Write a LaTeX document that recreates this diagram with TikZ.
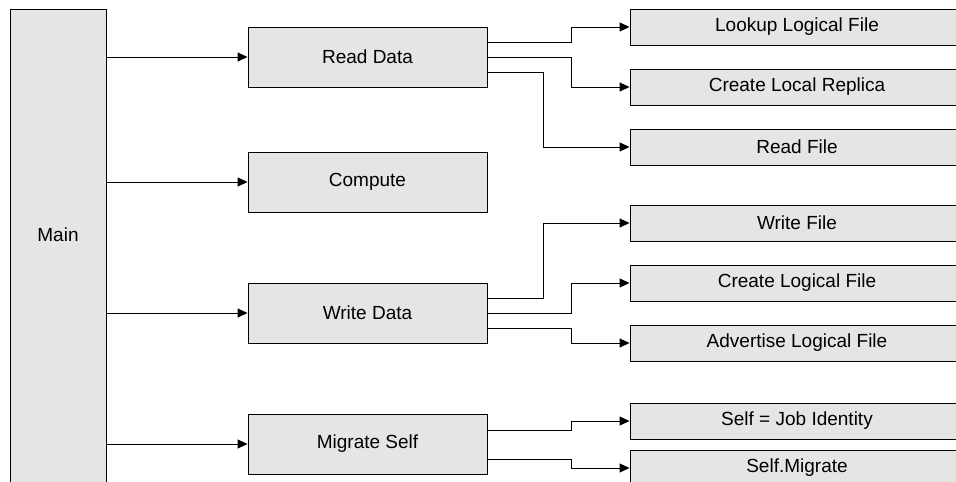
\documentclass[tikz,border=0pt]{standalone}
\usepackage{fontspec}
\setmainfont{Liberation Sans}
\usetikzlibrary{arrows.meta,calc}

\definecolor{boxgray}{HTML}{E5E5E5}

\tikzset{
  task/.style={draw=black, fill=boxgray, line width=0.9pt, inner sep=0pt,
    minimum width=239pt, minimum height=60pt, font=\fontsize{19}{22}\selectfont},
  subtask/.style={task, minimum width=334pt, minimum height=36pt},
  flow/.style={draw=black, line width=0.9pt, -{Triangle[length=10pt,width=9pt]}},
}

\begin{document}
\begin{tikzpicture}[x=1pt, y=1pt]
      \clip (0,0) rectangle (956,-482);
      % Define nodes
      \node[task, minimum width=96pt, minimum height=500pt,
            label={[font=\fontsize{19}{22}\selectfont, yshift=24pt]center:Main}] (main) at (58,-259) {};
      \node[task] (read)    at (367.5,-57)  {Read Data};
      \node[task] (compute) at (367.5,-182) {Compute};
      \node[task] (write)   at (367.5,-313) {Write Data};
      \node[task] (migrate) at (367.5,-444) {Migrate Self};
      \node[subtask] (lookup)    at (797,-27)  {Lookup Logical File};
      \node[subtask] (replica)   at (797,-87)  {Create Local Replica};
      \node[subtask] (readfile)  at (797,-147) {Read File};
      \node[subtask] (writefile) at (797,-223) {Write File};
      \node[subtask] (createlf)  at (797,-283) {Create Logical File};
      \node[subtask] (advertise) at (797,-343) {Advertise Logical File};
      \node[subtask] (selfid)    at (797,-421) {Self = Job Identity};
      \node[subtask] (selfmig)   at (797,-468) {Self.Migrate};
      % Connect nodes
      \draw[flow] (main.east |- read.west) -- (read.west);
      \draw[flow] (main.east |- compute.west) -- (compute.west);
      \draw[flow] (main.east |- write.west) -- (write.west);
      \draw[flow] (main.east |- migrate.west) -- (migrate.west);
      \draw[flow] ($(read.east)+(0,15)$) -- ++(84,0) |- (lookup.west);
      \draw[flow] (read.east) -- ++(84,0) |- (replica.west);
      \draw[flow] ($(read.east)+(0,-15)$) -- ++(56,0) |- (readfile.west);
      \draw[flow] ($(write.east)+(0,15)$) -- ++(56,0) |- (writefile.west);
      \draw[flow] (write.east) -- ++(84,0) |- (createlf.west);
      \draw[flow] ($(write.east)+(0,-15)$) -- ++(84,0) |- (advertise.west);
      \draw[flow] ($(migrate.east)+(0,14)$) -- ++(84,0) |- (selfid.west);
      \draw[flow] ($(migrate.east)+(0,-15)$) -- ++(84,0) |- (selfmig.west);
    \end{tikzpicture}
\end{document}
